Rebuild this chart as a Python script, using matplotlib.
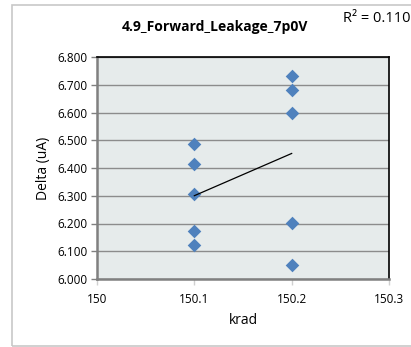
import numpy as np
import matplotlib.pyplot as plt
from matplotlib.patches import Rectangle

# Data
krad = [150.1, 150.1, 150.1, 150.1, 150.1, 150.2, 150.2, 150.2, 150.2, 150.2]
delta = [6.485, 6.413, 6.308, 6.172, 6.123, 6.730, 6.682, 6.597, 6.202, 6.051]
x_ticks = [150, 150.1, 150.2, 150.3]
y_ticks = [6.0, 6.1, 6.2, 6.3, 6.4, 6.5, 6.6, 6.7, 6.8]

x = np.array(krad)
y = np.array(delta)

# Linear trendline
slope, intercept = np.polyfit(x, y, 1)
x_fit = np.array([x.min(), x.max()])
y_fit = slope * x_fit + intercept

plt.rcParams['font.family'] = ['Open Sans', 'DejaVu Sans']

fig = plt.figure(figsize=(4.11, 3.47), dpi=100)
# outer chart border
fig.patches.append(Rectangle((12 / 411, 1 / 347), 1.2, 341 / 347, transform=fig.transFigure,
                             fill=False, edgecolor="#c8c8c8", linewidth=1.2))

ax = fig.add_axes([97 / 411, 1 - 279 / 347, 292 / 411, 222 / 347])
ax.set_facecolor("#e6ebeb")

ax.scatter(x, y, marker="D", s=48, color="#4f81bd", zorder=3, linewidths=0)
ax.plot(x_fit, y_fit, color="black", linewidth=0.9, zorder=4)

ax.set_xlim(150, 150.3)
ax.set_ylim(6.0, 6.8)
ax.set_xticks(x_ticks)
ax.set_xticklabels(["150", "150.1", "150.2", "150.3"])
ax.set_yticks(y_ticks)
ax.set_yticklabels(["%.3f" % v for v in y_ticks])
ax.yaxis.grid(True, color="#8c8c8c", linewidth=1)
ax.set_axisbelow(True)

for side in ["left", "bottom"]:
    ax.spines[side].set_color("#808080")
    ax.spines[side].set_linewidth(1.8)
for side in ["top", "right"]:
    ax.spines[side].set_color("black")
    ax.spines[side].set_linewidth(1.2)

ax.tick_params(axis="both", labelsize=8.5, color="#808080", length=4, width=1, pad=3)
ax.tick_params(axis="x", pad=6, color="#d0d0d0")

ax.set_xlabel("krad", fontsize=10, labelpad=5)
ax.set_ylabel("Delta (uA)", fontsize=10, labelpad=4)

fig.text(215 / 411, 1 - 27 / 347, "4.9_Forward_Leakage_7p0V", ha="center", va="center",
         fontsize=10, fontweight="bold")
fig.text(343 / 411, 1 - 18 / 347, "R² = 0.1102", ha="left", va="center", fontsize=10.5)

fig.savefig("out.png", dpi=100)
